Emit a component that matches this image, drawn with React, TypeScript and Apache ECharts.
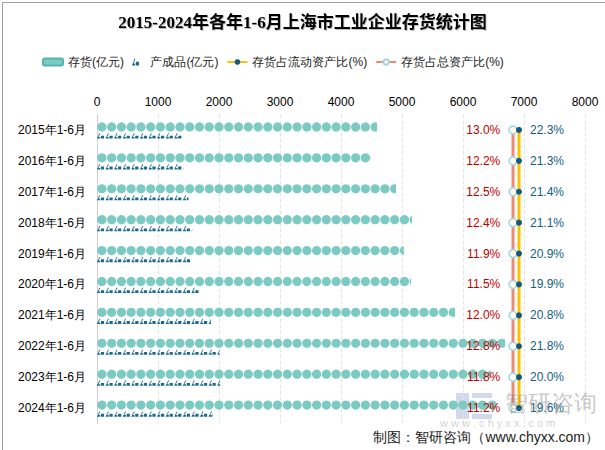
import React, { useEffect, useRef } from "react";
import * as echarts from "echarts";

const categories = [
  "2015年1-6月", "2016年1-6月", "2017年1-6月", "2018年1-6月", "2019年1-6月",
  "2020年1-6月", "2021年1-6月", "2022年1-6月", "2023年1-6月", "2024年1-6月",
];
const inventory = [4590, 4490, 4900, 5165, 5030, 5150, 5870, 6690, 6450, 6550];
const finishedGoods = [1410, 1415, 1500, 1560, 1545, 1680, 1870, 2010, 2020, 1900];
const ratioCurrent = [22.3, 21.3, 21.4, 21.1, 20.9, 19.9, 20.8, 21.8, 20.0, 19.6];
const ratioTotal = [13.0, 12.2, 12.5, 12.4, 11.9, 11.5, 12.0, 12.8, 11.8, 11.2];
const xTicksMax = 8000;
const xTickStep = 1000;
const lineSlots = ["总", "流"];

const goodsSymbol =
  "path://M0,100 L35,0 L48,0 L22,70 L45,70 L45,100 Z M55,45 L100,45 L100,100 L55,100 Z";

export default function App() {
  const ref = useRef<HTMLDivElement>(null);
  useEffect(() => {
    if (!ref.current) return;
    const chart = echarts.init(ref.current, undefined, { renderer: "svg" });
    const gridTop = 114.5;
    const gridHeight = 309;
    chart.setOption({
      animation: false,
      backgroundColor: "#fff",
      title: {
        text: "2015-2024年各年1-6月上海市工业企业存货统计图",
        left: "center",
        top: 9,
        textStyle: {
          fontSize: 17,
          fontWeight: "bold",
          color: "#000",
          fontFamily: "Liberation Serif, Noto Sans CJK SC",
          textShadowColor: "rgba(0,0,0,0.25)",
          textShadowOffsetX: 1,
          textShadowOffsetY: 1,
          textShadowBlur: 1,
        },
      },
      legend: {
        left: 37,
        top: 51,
        itemGap: 8,
        itemWidth: 20,
        itemHeight: 7,
        textStyle: { fontSize: 12, color: "#222" },
        data: [
          { name: "存货(亿元)", icon: "roundRect" },
          { name: "产成品(亿元)", icon: goodsSymbol },
          "存货占流动资产比(%)",
          "存货占总资产比(%)",
        ],
      },
      grid: [
        { left: 97, right: 20, top: gridTop, height: gridHeight },
        { left: 510, width: 12, top: gridTop, height: gridHeight },
      ],
      xAxis: [
        {
          type: "value",
          gridIndex: 0,
          position: "top",
          min: 0,
          max: xTicksMax,
          interval: xTickStep,
          axisLine: { show: false },
          axisTick: { show: false },
          axisLabel: { color: "#000", fontSize: 12, margin: 7, formatter: (v: number) => String(v) },
          splitLine: { lineStyle: { type: "dashed", color: "#e4e4e4" } },
        },
        {
          type: "category",
          gridIndex: 1,
          data: lineSlots,
          show: false,
        },
      ],
      yAxis: [
        {
          type: "category",
          gridIndex: 0,
          inverse: true,
          data: categories,
          axisLine: { lineStyle: { color: "#cfcfcf" } },
          axisTick: { show: false },
          axisLabel: { color: "#000", fontSize: 12, margin: 11 },
        },
        {
          type: "category",
          gridIndex: 1,
          inverse: true,
          data: categories,
          show: false,
        },
      ],
      series: [
        {
          name: "存货(亿元)",
          type: "pictorialBar",
          xAxisIndex: 0,
          yAxisIndex: 0,
          symbol: "circle",
          symbolRepeat: true,
          symbolClip: true,
          symbolSize: [9, 9],
          symbolMargin: 0,
          symbolOffset: [0, -3],
          itemStyle: { color: "#7ccbc3", borderColor: "#56b5ab", borderWidth: 0.8 },
          data: inventory,
          z: 3,
        },
        {
          name: "产成品(亿元)",
          type: "pictorialBar",
          xAxisIndex: 0,
          yAxisIndex: 0,
          symbol: goodsSymbol,
          symbolRepeat: true,
          symbolClip: true,
          symbolSize: [7, 5],
          symbolMargin: 0.8,
          symbolOffset: [0, 6],
          itemStyle: { color: "#1b6a8e" },
          data: finishedGoods,
          z: 3,
        },
        {
          name: "存货占流动资产比(%)",
          type: "line",
          xAxisIndex: 1,
          yAxisIndex: 1,
          symbol: "circle",
          symbolSize: 6,
          showAllSymbol: true,
          lineStyle: { color: "#ffc000", width: 3 },
          itemStyle: { color: "#11597f", borderWidth: 0 },
          data: categories.map((c) => [lineSlots[1], c]),
          label: {
            show: true,
            position: "right",
            distance: 8,
            fontSize: 12,
            color: "#14607f",
            formatter: (p: any) => ratioCurrent[p.dataIndex].toFixed(1) + "%",
          },
          z: 5,
        },
        {
          name: "存货占总资产比(%)",
          type: "line",
          xAxisIndex: 1,
          yAxisIndex: 1,
          symbol: "circle",
          symbolSize: 8,
          showAllSymbol: true,
          lineStyle: { color: "#ef8a72", width: 3 },
          itemStyle: { color: "#fffbea", borderColor: "#9fd6ea", borderWidth: 1.5 },
          data: categories.map((c) => [lineSlots[0], c]),
          label: {
            show: true,
            position: "left",
            distance: 8,
            fontSize: 12,
            color: "#c00000",
            formatter: (p: any) => ratioTotal[p.dataIndex].toFixed(1) + "%",
          },
          z: 4,
        },
      ],
      graphic: [
        {
          type: "group",
          left: 456,
          top: 393,
          silent: true,
          z: 10,
          children: [
            { type: "rect", shape: { x: 0, y: 0, width: 13, height: 26 }, style: { fill: "rgba(120,150,200,0.35)" } },
            { type: "rect", shape: { x: 16, y: 0, width: 20, height: 5 }, style: { fill: "rgba(120,150,200,0.35)" } },
            { type: "rect", shape: { x: 16, y: 10, width: 20, height: 5 }, style: { fill: "rgba(120,150,200,0.35)" } },
            { type: "rect", shape: { x: 16, y: 21, width: 20, height: 5 }, style: { fill: "rgba(120,150,200,0.35)" } },
          ],
        },
        {
          type: "text",
          left: 505,
          top: 391,
          silent: true,
          z: 10,
          style: { text: "智研咨询", fontSize: 23, fill: "rgba(130,130,130,0.45)" },
        },
        {
          type: "text",
          left: 440,
          top: 417,
          silent: true,
          z: 10,
          style: { text: "w w w . c h y x x . c o m", fontSize: 11, fill: "rgba(150,150,150,0.45)" },
        },
        {
          type: "text",
          right: 6,
          top: 430,
          z: 11,
          style: { text: "制图：智研咨询（www.chyxx.com）", fontSize: 14, fill: "#222" },
        },
        {
          type: "rect",
          left: 0,
          top: 0,
          z: 12,
          silent: true,
          shape: { x: 0.5, y: 0.5, width: 604, height: 449 },
          style: { fill: "none", stroke: "#a0a0a0", lineWidth: 1 },
        },
      ],
    });
    return () => chart.dispose();
  }, []);
  return (
    <div
      ref={ref}
      style={{ position: "fixed", left: 0, top: 0, width: 605, height: 450 }}
    />
  );
}
